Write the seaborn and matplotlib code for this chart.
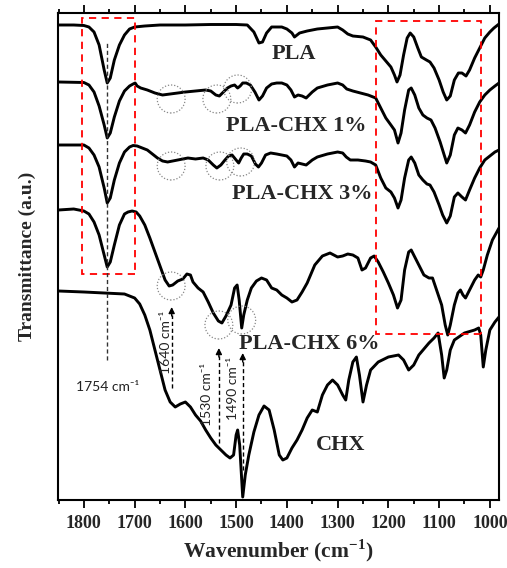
import matplotlib
matplotlib.use("Agg")
import matplotlib.pyplot as plt
from matplotlib.patches import Rectangle, Ellipse
from matplotlib.ticker import MultipleLocator
import pandas as pd
import seaborn as sns

# 光谱数据（从图上读取，透过率为任意单位，已含堆叠偏移）
wn_pla = [1850, 1820, 1800, 1790, 1780, 1770, 1760, 1754, 1748, 1740, 1730, 1720, 1710, 1700,
          1680, 1650, 1600, 1550, 1500, 1478, 1465, 1455, 1448, 1440, 1430, 1410, 1400, 1390,
          1385, 1375, 1360, 1340, 1320, 1300, 1290, 1280, 1270, 1250, 1235, 1225, 1215, 1205,
          1195, 1188, 1183, 1177, 1170, 1163, 1157, 1150, 1142, 1135, 1125, 1118, 1110, 1100,
          1092, 1085, 1078, 1070, 1062, 1055, 1047, 1040, 1030, 1020, 1010, 1000, 992, 982]
t_pla = [47.5, 47.5, 47.45, 47.3, 46.8, 45.5, 43.0, 41.7, 42.2, 44.0, 45.5, 46.5, 47.1, 47.3,
         47.4, 47.5, 47.5, 47.55, 47.55, 47.5, 46.8, 45.7, 45.8, 46.7, 47.3, 47.3, 47.1, 46.7,
         46.3, 46.7, 46.9, 47.1, 47.2, 47.3, 47.0, 46.6, 46.4, 46.3, 46.0, 45.3, 44.5, 43.9,
         43.3, 42.5, 41.8, 42.5, 44.5, 46.2, 46.7, 46.3, 45.2, 44.3, 44.0, 43.8, 43.2, 42.0,
         40.8, 40.0, 40.4, 42.0, 42.7, 42.7, 42.4, 43.0, 44.2, 45.2, 46.2, 46.8, 47.2, 47.6]

wn_1 = [1850, 1800, 1790, 1780, 1770, 1760, 1754, 1748, 1740, 1730, 1720, 1710, 1703, 1699,
        1695, 1688, 1675, 1660, 1645, 1630, 1615, 1600, 1580, 1560, 1550, 1540, 1533, 1525,
        1517, 1510, 1503, 1497, 1492, 1487, 1480, 1472, 1463, 1455, 1448, 1440, 1430, 1420,
        1410, 1400, 1392, 1385, 1378, 1370, 1362, 1350, 1340, 1320, 1300, 1290, 1282, 1270,
        1255, 1240, 1225, 1215, 1205, 1195, 1188, 1181, 1175, 1168, 1160, 1155, 1148, 1140,
        1132, 1124, 1116, 1108, 1098, 1090, 1085, 1078, 1070, 1063, 1055, 1048, 1040, 1030,
        1020, 1010, 1000, 990, 982]
t_1 = [41.8, 41.75, 41.5, 40.8, 39.4, 37.5, 36.2, 36.7, 38.3, 39.9, 40.9, 41.4, 41.6, 41.7,
       41.4, 41.2, 41.0, 40.7, 40.5, 40.6, 40.7, 40.8, 40.9, 41.0, 40.9, 40.5, 40.4, 40.8,
       41.2, 41.4, 41.5, 41.2, 41.4, 41.7, 41.7, 41.5, 40.8, 40.0, 40.4, 41.2, 41.6, 41.7,
       41.7, 41.5, 41.0, 40.3, 40.5, 40.4, 40.2, 40.8, 41.2, 41.5, 41.7, 41.5, 41.1, 40.9,
       40.7, 40.5, 40.2, 39.2, 38.2, 37.5, 37.0, 35.7, 36.7, 39.0, 41.0, 41.2, 40.5, 39.2,
       38.5, 38.2, 38.0, 37.2, 35.8, 34.5, 33.7, 34.5, 36.5, 37.2, 37.0, 36.7, 37.5, 38.8,
       39.8, 40.5, 41.0, 41.4, 41.7]

wn_3 = [1850, 1800, 1790, 1780, 1770, 1760, 1754, 1748, 1740, 1730, 1720, 1710, 1703, 1695,
        1685, 1675, 1665, 1655, 1645, 1635, 1625, 1615, 1605, 1595, 1580, 1565, 1555, 1545,
        1538, 1530, 1522, 1515, 1508, 1500, 1495, 1490, 1485, 1478, 1470, 1462, 1456, 1450,
        1442, 1432, 1420, 1410, 1400, 1392, 1385, 1378, 1370, 1362, 1350, 1340, 1320, 1300,
        1290, 1283, 1275, 1260, 1245, 1235, 1225, 1215, 1205, 1195, 1188, 1181, 1175, 1168,
        1160, 1155, 1148, 1140, 1132, 1124, 1118, 1110, 1100, 1093, 1085, 1078, 1070, 1063,
        1055, 1048, 1040, 1030, 1020, 1010, 1000, 990, 982]
t_3 = [35.5, 35.5, 35.2, 34.5, 33.3, 31.2, 29.7, 30.2, 32.0, 33.7, 34.8, 35.3, 35.45, 35.4,
       35.2, 35.0, 34.6, 34.2, 33.9, 33.8, 33.9, 34.0, 34.1, 34.2, 34.1, 34.2, 34.0, 33.5,
       33.2, 33.5, 34.0, 34.4, 34.5, 34.0, 33.7, 34.2, 34.6, 34.6, 34.4, 33.6, 33.3, 33.7,
       34.5, 34.7, 34.6, 34.5, 34.4, 34.0, 33.3, 33.7, 33.6, 33.5, 34.0, 34.3, 34.6, 34.8,
       34.7, 34.3, 34.0, 34.0, 33.9, 33.8, 33.5, 32.2, 31.2, 30.8, 30.2, 29.2, 30.0, 32.2,
       34.0, 34.3, 33.7, 32.5, 32.0, 31.6, 31.5, 30.8, 29.5, 28.5, 27.7, 28.4, 30.3, 30.7,
       30.3, 30.0, 31.0, 32.2, 33.2, 34.0, 34.4, 34.8, 35.0]

wn_6 = [1850, 1820, 1800, 1790, 1780, 1770, 1760, 1754, 1748, 1740, 1730, 1720, 1713, 1705,
        1697, 1690, 1680, 1670, 1660, 1650, 1640, 1632, 1625, 1615, 1605, 1597, 1590, 1585,
        1575, 1565, 1555, 1545, 1535, 1528, 1520, 1510, 1503, 1498, 1494, 1489, 1485, 1478,
        1470, 1460, 1450, 1440, 1430, 1420, 1410, 1400, 1390, 1380, 1370, 1360, 1345, 1330,
        1315, 1300, 1290, 1280, 1270, 1260, 1252, 1245, 1235, 1228, 1220, 1210, 1200, 1190,
        1182, 1175, 1168, 1160, 1155, 1150, 1140, 1130, 1120, 1113, 1105, 1095, 1088, 1083,
        1078, 1070, 1063, 1058, 1053, 1048, 1040, 1030, 1023, 1018, 1013, 1005, 995, 982]
t_6 = [29.0, 29.1, 28.9, 28.6, 27.8, 26.5, 24.5, 23.3, 23.8, 25.5, 27.5, 28.6, 28.8, 28.9,
       28.8, 28.4, 27.5, 26.2, 24.8, 23.4, 22.0, 21.4, 21.5, 21.9, 22.1, 22.6, 22.5, 21.8,
       21.2, 20.8, 19.8, 18.7, 17.9, 17.7, 18.4, 19.5, 21.2, 21.5, 20.0, 17.2, 18.5, 20.0,
       21.2, 21.9, 22.2, 22.0, 21.2, 21.0, 20.5, 20.2, 19.8, 20.0, 20.8, 21.7, 23.5, 24.4,
       24.7, 24.3, 24.4, 24.6, 24.5, 24.2, 23.0, 23.2, 24.2, 24.4, 23.8, 22.8, 21.7, 20.5,
       19.2, 20.0, 23.0, 24.8, 25.0, 24.5, 23.5, 22.5, 22.2, 22.2, 21.0, 19.5, 17.5, 16.5,
       17.5, 19.5, 20.7, 21.0, 20.5, 20.2, 21.0, 22.0, 22.5, 22.3, 23.0, 24.5, 26.0, 27.2]

wn_chx = [1850, 1800, 1760, 1740, 1720, 1700, 1690, 1680, 1670, 1660, 1650, 1640, 1630, 1620,
          1610, 1600, 1590, 1580, 1570, 1560, 1550, 1540, 1530, 1520, 1512, 1505, 1500, 1497,
          1493, 1487, 1482, 1475, 1465, 1455, 1445, 1435, 1425, 1415, 1408, 1400, 1390, 1380,
          1370, 1360, 1350, 1340, 1330, 1320, 1310, 1300, 1290, 1284, 1278, 1270, 1263, 1257,
          1250, 1243, 1235, 1220, 1200, 1180, 1170, 1160, 1150, 1140, 1120, 1110, 1102, 1095,
          1090, 1085, 1078, 1070, 1050, 1030, 1022, 1018, 1013, 1008, 1000, 990, 982]
t_chx = [20.9, 20.8, 20.7, 20.65, 20.6, 20.2, 19.6, 18.5, 17.0, 15.0, 13.0, 11.0, 9.8, 9.3,
         9.6, 9.8, 9.3, 8.5, 7.9, 7.0, 6.2, 5.5, 5.0, 4.5, 4.2, 4.5, 6.5, 7.0,
         5.5, 0.3, 2.5, 4.5, 6.8, 8.5, 9.4, 9.0, 7.0, 4.5, 4.0, 4.2, 5.2, 6.0,
         7.0, 8.2, 9.0, 8.8, 10.5, 11.5, 12.0, 11.5, 10.5, 10.0, 12.0, 13.8, 14.3, 12.5,
         9.8, 11.5, 13.0, 13.8, 14.3, 14.5, 14.0, 13.0, 13.5, 14.5, 15.7, 16.2, 16.7, 14.5,
         12.2, 13.0, 15.0, 16.0, 16.7, 17.0, 17.2, 16.5, 13.3, 15.0, 17.0, 17.8, 18.3]

samples = ["PLA", "PLA-CHX 1%", "PLA-CHX 3%", "PLA-CHX 6%", "CHX"]
label_pos = [(1386, 44.6), (1382, 37.4), (1370, 30.6), (1355, 15.6), (1294, 5.5)]

# 标注峰位
peak_wn = [1627, 1534, 1487]
peak_text = ["1640 cm⁻¹", "1530 cm⁻¹", "1490 cm⁻¹"]
peak_text_pos = [(1638, 15.8), (1557, 10.6), (1506, 11.2)]
arrow_y = [(11.2, 19.3), (5.7, 15.2), (3.0, 14.7)]

# 虚线圆圈（圆心）
circles = [(1628, 40.1), (1538, 40.1), (1497, 41.1),
           (1628, 33.4), (1532, 33.4), (1491, 33.8),
           (1628, 21.4), (1534, 17.5), (1489, 18.0)]

# 红色虚线框 (左, 右, 下, 上)
boxes = [(1803, 1700, 22.6, 48.2), (1225, 1018, 16.6, 47.9)]

df = pd.concat([
    pd.DataFrame({"wn": w, "T": t, "sample": s})
    for w, t, s in zip([wn_pla, wn_1, wn_3, wn_6, wn_chx],
                       [t_pla, t_1, t_3, t_6, t_chx], samples)
])

sns.set_theme(style="ticks")
plt.rcParams["font.family"] = ["Liberation Serif", "DejaVu Serif"]
plt.rcParams["mathtext.fontset"] = "custom"
plt.rcParams["mathtext.rm"] = "Liberation Serif"
plt.rcParams["mathtext.bf"] = "Liberation Serif:bold"

fig = plt.figure(figsize=(5.07, 5.68), dpi=100)
ax = fig.add_axes([58 / 507, 1 - 500 / 568, 441 / 507, 487 / 568])

sns.lineplot(data=df, x="wn", y="T", hue="sample", units="sample", estimator=None,
             palette=["black"] * 5, legend=False, lw=2.1, ax=ax, sort=False,
             solid_joinstyle="round", solid_capstyle="round")

ax.set_xlim(1851, 982)
ax.set_ylim(0, 48.7)

for (x0, x1, y0, y1) in boxes:
    ax.add_patch(Rectangle((x1, y0), x0 - x1, y1 - y0, fill=False, ec="red",
                           lw=1.3, ls=(0, (4, 3)), zorder=3))

for (cx, cy) in circles:
    ax.add_patch(Ellipse((cx, cy), 55, 2.8, fill=False, ec="#888888", lw=0.9,
                         ls=(0, (1, 1.5)), zorder=3))

sans = ["Lato", "DejaVu Sans"]

# 1754 cm-1 虚线
ax.plot([1754, 1754], [14.0, 45.7], color="#333333", lw=1.0, ls=(0, (3, 2)), zorder=4)
ax.text(1753, 11.3, "1754 cm⁻¹", ha="center", va="center", fontsize=10,
        family=sans, color="#222222")

for x, txt, (tx, ty), (ya, yb) in zip(peak_wn, peak_text, peak_text_pos, arrow_y):
    ax.plot([x, x], [ya, yb - 0.8], color="black", lw=1.0, ls=(0, (3, 2)), zorder=4)
    ax.annotate("", xy=(x, yb), xytext=(x, yb - 0.9),
                arrowprops=dict(arrowstyle="-|>", color="black", lw=1.0,
                                mutation_scale=9, shrinkA=0, shrinkB=0), zorder=4)
    ax.text(tx, ty, txt, ha="center", va="center", rotation=90, fontsize=10,
            family=sans, color="#222222")

for s, (lx, ly) in zip(samples, label_pos):
    ax.text(lx, ly, s, ha="center", va="center", fontsize=16, fontweight="bold")

ax.xaxis.set_major_locator(MultipleLocator(100))
ax.xaxis.set_minor_locator(MultipleLocator(50))
ax.tick_params(axis="x", which="both", direction="out", top=True, bottom=True,
               labelsize=13, pad=5, width=1.3, color="black")
ax.tick_params(axis="x", which="major", length=6)
ax.tick_params(axis="x", which="minor", length=3)
ax.tick_params(axis="y", left=False, labelleft=False)
for lab in ax.get_xticklabels():
    lab.set_fontweight("bold")
for sp in ax.spines.values():
    sp.set_visible(True)
    sp.set_linewidth(1.5)
    sp.set_color("black")

ax.set_xlabel("Wavenumber (cm$^{\\mathbf{-1}}$)", fontsize=15.5, fontweight="bold",
              labelpad=4)
ax.set_ylabel("Transmittance (a.u.)", fontsize=14, fontweight="bold", labelpad=16)

fig.savefig("out.png", dpi=100)
